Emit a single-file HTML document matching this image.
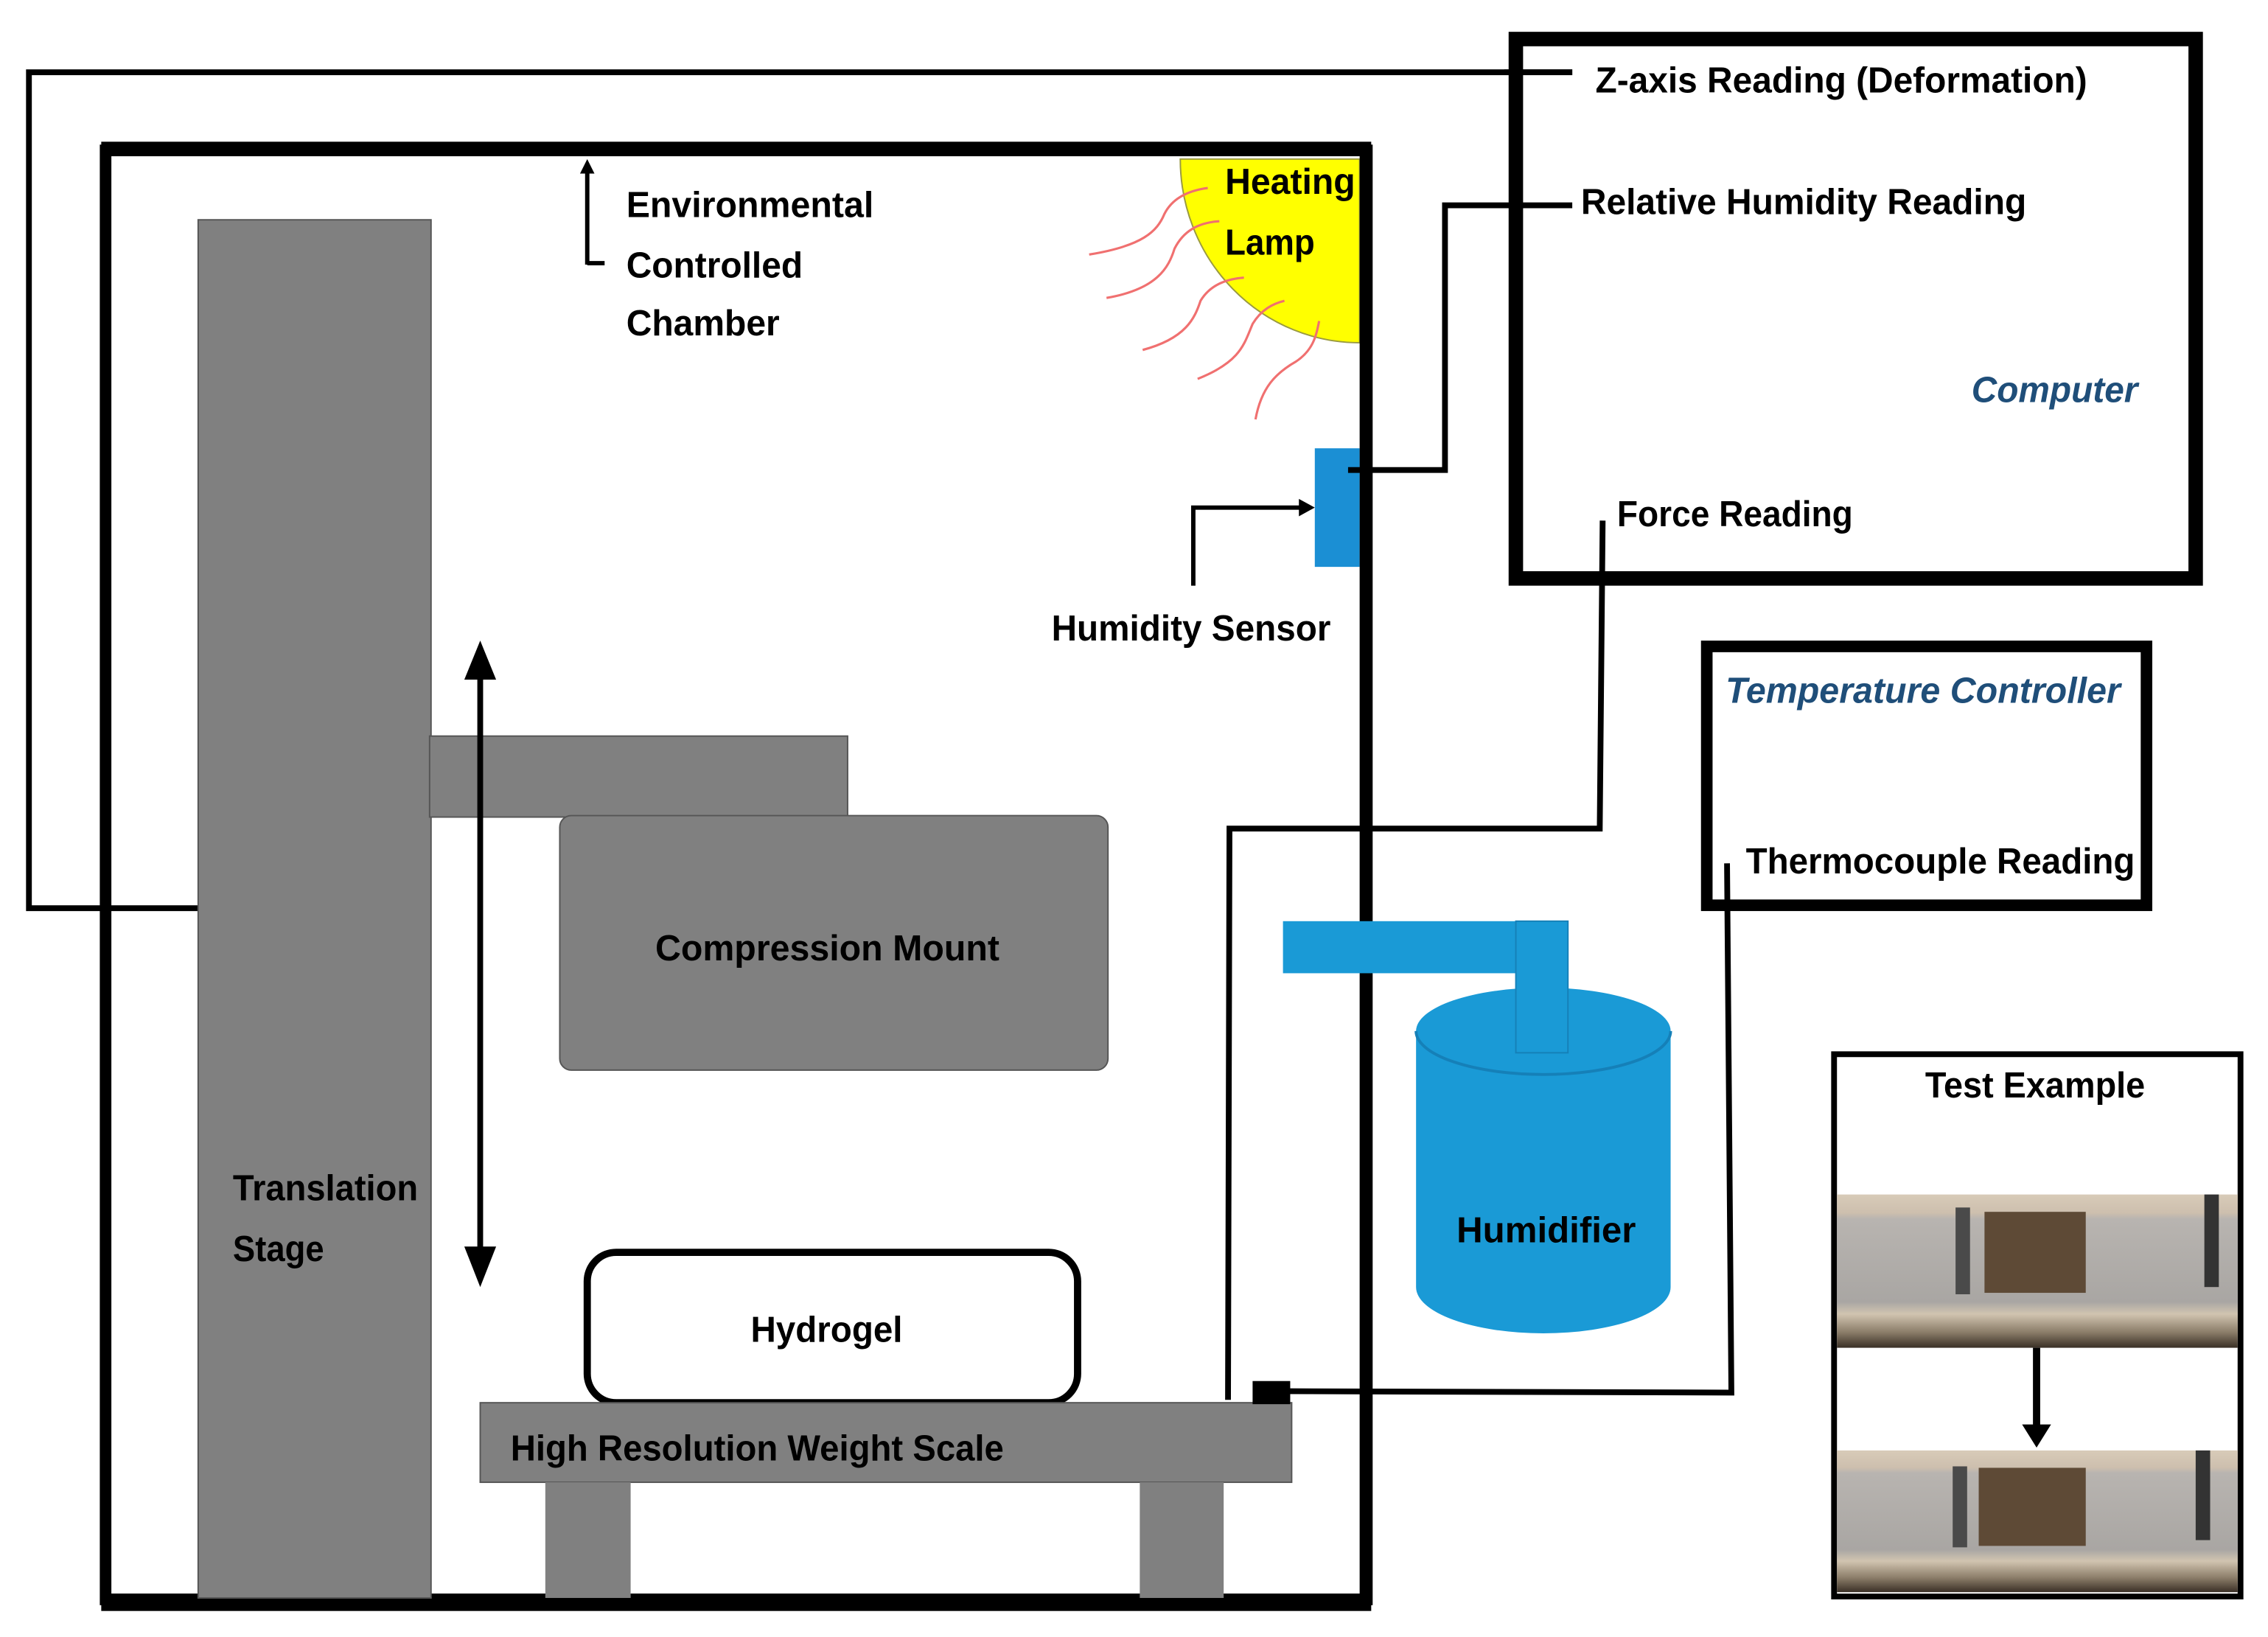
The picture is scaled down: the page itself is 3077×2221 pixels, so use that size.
<!DOCTYPE html>
<html><head><meta charset="utf-8"><style>
html,body{margin:0;padding:0;background:#fff;}
svg{display:block;}
text{font-family:"Liberation Sans",sans-serif;font-weight:bold;font-size:25px;fill:#000;}
.b{fill:#1f4e79;font-style:italic;}
</style></head><body>
<svg width="3077" height="2221" viewBox="0 0 1568 1132" preserveAspectRatio="none" xmlns="http://www.w3.org/2000/svg">
<defs>
<linearGradient id="ph" x1="0" y1="0" x2="0" y2="1">
<stop offset="0" stop-color="#d8cbb8"/><stop offset="0.12" stop-color="#cdbfae"/>
<stop offset="0.16" stop-color="#b8b4b0"/><stop offset="0.7" stop-color="#a9a6a3"/>
<stop offset="0.78" stop-color="#d1c4b0"/><stop offset="0.9" stop-color="#8a7c68"/><stop offset="1" stop-color="#3a3026"/>
</linearGradient>
</defs>
<polyline points="137,628 20,628 20,50 1087,50" fill="none" stroke="#000" stroke-width="4"/>
<rect x="73" y="104" width="872" height="1002" fill="none" stroke="#000" stroke-width="8"/>
<rect x="70" y="98" width="878" height="10" fill="#000"/>
<rect x="70" y="1102" width="878" height="12" fill="#000"/>
<path d="M940,110 L816,110 A124,127 0 0 0 940,237 Z" fill="#ffff00" stroke="#9a9a40" stroke-width="1"/>
<g fill="none" stroke="#f07070" stroke-width="1.6">
<path d="M753,176 C790,170 800,160 805,148 C810,138 820,132 835,130"/>
<path d="M765,206 C800,200 808,185 812,172 C818,160 828,154 843,153"/>
<path d="M790,242 C820,234 826,220 830,208 C836,198 846,193 860,192"/>
<path d="M828,262 C858,250 860,238 866,224 C872,214 880,210 888,208"/>
<path d="M868,290 C872,268 882,258 896,250 C908,242 910,232 912,222"/>
</g>
<text x="847" y="134" textLength="90" lengthAdjust="spacingAndGlyphs">Heating</text>
<text x="847" y="176" textLength="62" lengthAdjust="spacingAndGlyphs">Lamp</text>
<polyline points="406,182 418,182" stroke="#000" stroke-width="3" fill="none"/>
<line x1="406" y1="183" x2="406" y2="118" stroke="#000" stroke-width="3"/>
<polygon points="401,120 411,120 406,110" fill="#000"/>
<text x="433" y="150" textLength="171" lengthAdjust="spacingAndGlyphs">Environmental</text>
<text x="433" y="192" textLength="122" lengthAdjust="spacingAndGlyphs">Controlled</text>
<text x="433" y="232" textLength="106" lengthAdjust="spacingAndGlyphs">Chamber</text>
<rect x="137" y="152" width="161" height="953" fill="#808080" stroke="#555" stroke-width="1"/>
<text x="161" y="830" textLength="128" lengthAdjust="spacingAndGlyphs">Translation</text>
<text x="161" y="872" textLength="63" lengthAdjust="spacingAndGlyphs">Stage</text>
<rect x="297" y="509" width="289" height="56" fill="#808080" stroke="#555" stroke-width="1"/>
<rect x="387" y="564" width="379" height="176" rx="8" fill="#808080" stroke="#555" stroke-width="1"/>
<text x="453" y="664" textLength="238" lengthAdjust="spacingAndGlyphs">Compression Mount</text>
<line x1="332" y1="460" x2="332" y2="872" stroke="#000" stroke-width="4"/>
<polygon points="321,470 343,470 332,443" fill="#000"/>
<polygon points="321,862 343,862 332,890" fill="#000"/>
<rect x="406" y="866" width="339" height="104" rx="20" fill="#fff" stroke="#000" stroke-width="5"/>
<text x="519" y="928" textLength="105" lengthAdjust="spacingAndGlyphs">Hydrogel</text>
<rect x="332" y="970" width="561" height="55" fill="#808080" stroke="#555" stroke-width="1"/>
<rect x="377" y="1025" width="59" height="80" fill="#808080"/>
<rect x="788" y="1025" width="58" height="80" fill="#808080"/>
<text x="353" y="1010" textLength="341" lengthAdjust="spacingAndGlyphs">High Resolution Weight Scale</text>
<rect x="909" y="310" width="31" height="82" fill="#1b8fd4"/>
<polyline points="825,405 825,351 900,351" fill="none" stroke="#000" stroke-width="3"/>
<polygon points="898,345 898,357 909,351" fill="#000"/>
<text x="727" y="443" textLength="193" lengthAdjust="spacingAndGlyphs">Humidity Sensor</text>
<polyline points="932,325 999,325 999,142 1087,142" fill="none" stroke="#000" stroke-width="4"/>
<rect x="1048" y="27" width="470" height="373" fill="none" stroke="#000" stroke-width="10"/>
<line x1="1040" y1="50" x2="1087" y2="50" stroke="#000" stroke-width="4"/>
<text x="1103" y="64" textLength="340" lengthAdjust="spacingAndGlyphs">Z-axis Reading (Deformation)</text>
<text x="1093" y="148" textLength="308" lengthAdjust="spacingAndGlyphs">Relative Humidity Reading</text>
<text class="b" x="1363" y="278" textLength="115" lengthAdjust="spacingAndGlyphs">Computer</text>
<text x="1118" y="364" textLength="163" lengthAdjust="spacingAndGlyphs">Force Reading</text>
<polyline points="1108,360 1106,573 850,573 849,968" fill="none" stroke="#000" stroke-width="4"/>
<rect x="866" y="955" width="26" height="16" fill="#000"/>
<polyline points="880,962 1197,963 1194,597" fill="none" stroke="#000" stroke-width="4"/>
<rect x="1180" y="447" width="304" height="179" fill="none" stroke="#000" stroke-width="8"/>
<text class="b" x="1193" y="486" textLength="273" lengthAdjust="spacingAndGlyphs">Temperature Controller</text>
<text x="1207" y="604" textLength="269" lengthAdjust="spacingAndGlyphs">Thermocouple Reading</text>
<line x1="944" y1="104" x2="944" y2="1110" stroke="#000" stroke-width="8"/>
<path d="M979,713 L979,890 A88,32 0 0 0 1155,890 L1155,713 A88,30 0 0 0 979,713 Z" fill="#1a9ad6"/>
<path d="M979,713 A88,30 0 0 0 1155,713" fill="none" stroke="#1580b8" stroke-width="2"/>
<rect x="887" y="637" width="197" height="36" fill="#1a9ad6"/>
<rect x="1048" y="637" width="36" height="91" fill="#1a9ad6" stroke="#1580b8" stroke-width="1"/>
<text x="1007" y="859" textLength="124" lengthAdjust="spacingAndGlyphs">Humidifier</text>
<rect x="1268" y="729" width="281" height="375" fill="#fff" stroke="#000" stroke-width="4"/>
<text x="1331" y="759" textLength="152" lengthAdjust="spacingAndGlyphs">Test Example</text>
<rect x="1270" y="826" width="277" height="106" fill="url(#ph)"/>
<rect x="1372" y="838" width="70" height="56" fill="#5e4a36"/>
<rect x="1352" y="835" width="10" height="60" fill="#4a4a4a"/>
<rect x="1524" y="826" width="10" height="64" fill="#333"/>
<rect x="1270" y="1003" width="277" height="98" fill="url(#ph)"/>
<rect x="1368" y="1015" width="74" height="54" fill="#5e4a36"/>
<rect x="1350" y="1014" width="10" height="56" fill="#4a4a4a"/>
<rect x="1518" y="1003" width="10" height="62" fill="#333"/>
<line x1="1408" y1="932" x2="1408" y2="988" stroke="#000" stroke-width="5"/>
<polygon points="1398,985 1418,985 1408,1001" fill="#000"/>
</svg>
</body></html>
